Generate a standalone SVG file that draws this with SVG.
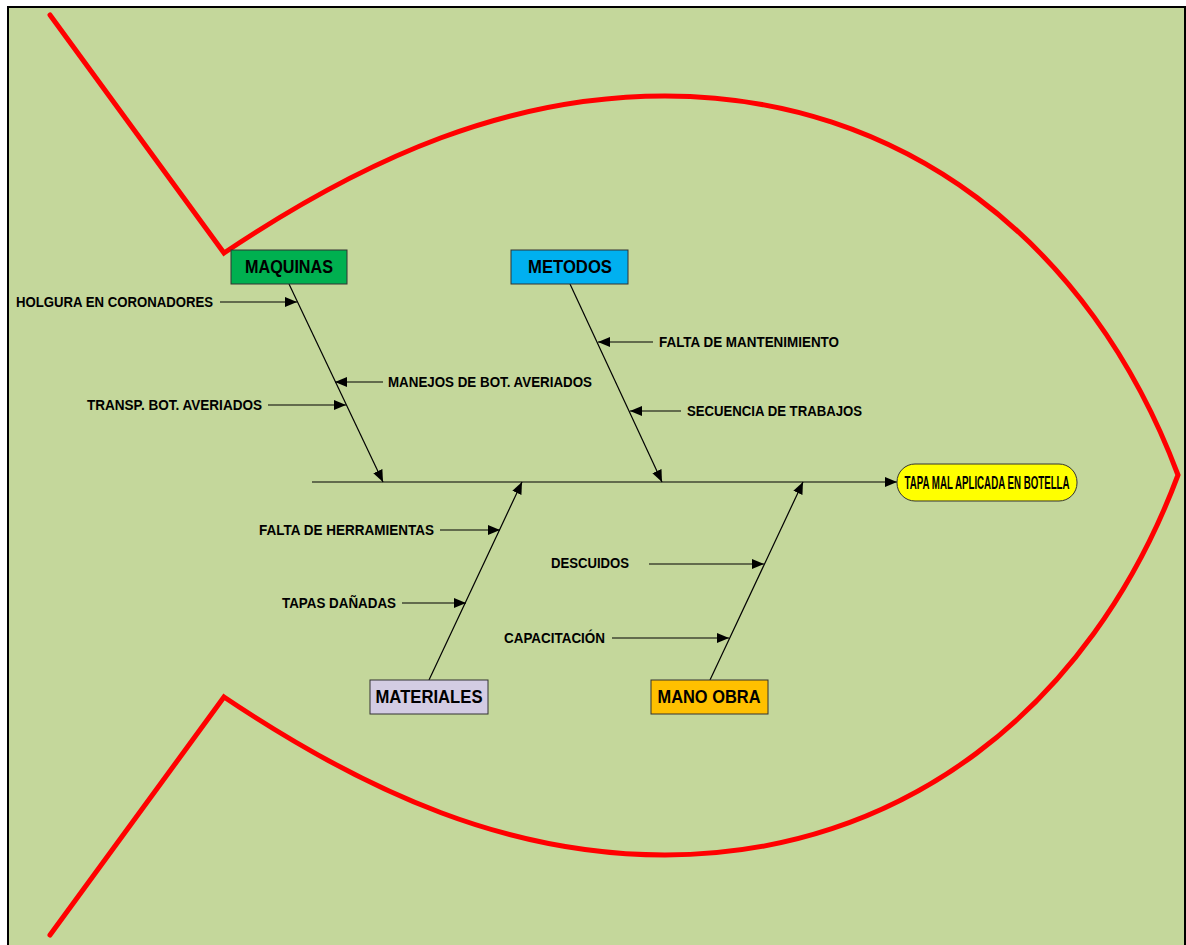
<svg xmlns="http://www.w3.org/2000/svg" width="1186" height="945" viewBox="0 0 1186 945">
<defs>
<style>
.bg{fill:#C4D79B;stroke:#000;stroke-width:2}
.fish{fill:none;stroke:#FF0000;stroke-width:5;stroke-linecap:round;stroke-linejoin:miter}
.ln{stroke:#000;stroke-width:1.2;fill:none}
.box{stroke:#333;stroke-width:1}
.cat{font-family:"Liberation Sans",Arial,sans-serif;font-weight:bold;font-size:18px;fill:#000;text-anchor:middle;dominant-baseline:central}
.lbl{font-family:"Liberation Sans",Arial,sans-serif;font-weight:bold;font-size:14px;fill:#000;dominant-baseline:central}
</style>
<marker id="ar" markerUnits="userSpaceOnUse" markerWidth="13" markerHeight="11" refX="12" refY="5" orient="auto">
<path d="M0,0 L12,5 L0,10 z" fill="#000"/>
</marker>
</defs>
<rect class="bg" x="8" y="7" width="1177" height="950"/>
<g id="fish">
<path class="fish" d="M50,15 L224,253 C370,155 510,96 665,96 C900,96 1090,240 1178,475 C1090,710 900,855 665,855 C510,855 370,795 224,697 L50,935"/>
</g>
<g id="connectors">
<line class="ln" x1="312" y1="482" x2="897" y2="482" marker-end="url(#ar)"/>
<line class="ln" x1="289" y1="284" x2="383" y2="482" marker-end="url(#ar)"/>
<line class="ln" x1="570" y1="284" x2="662" y2="482" marker-end="url(#ar)"/>
<line class="ln" x1="429" y1="680" x2="522" y2="482" marker-end="url(#ar)"/>
<line class="ln" x1="710" y1="680" x2="803" y2="482" marker-end="url(#ar)"/>
<line class="ln" x1="220" y1="302" x2="297" y2="302" marker-end="url(#ar)"/>
<line class="ln" x1="383" y1="382" x2="335" y2="382" marker-end="url(#ar)"/>
<line class="ln" x1="268" y1="405" x2="346" y2="405" marker-end="url(#ar)"/>
<line class="ln" x1="653" y1="342" x2="598" y2="342" marker-end="url(#ar)"/>
<line class="ln" x1="681" y1="411" x2="630" y2="411" marker-end="url(#ar)"/>
<line class="ln" x1="440" y1="530" x2="500" y2="530" marker-end="url(#ar)"/>
<line class="ln" x1="402" y1="603" x2="466" y2="603" marker-end="url(#ar)"/>
<line class="ln" x1="649" y1="564" x2="764" y2="564" marker-end="url(#ar)"/>
<line class="ln" x1="612" y1="638" x2="729" y2="638" marker-end="url(#ar)"/>
</g>
<g id="head">
<rect x="897" y="464" width="180" height="37" rx="18" ry="18" fill="#FFFF00" stroke="#333" stroke-width="1"/>
<text class="cat" transform="translate(987,483) scale(0.54,1)" x="0" y="0" font-size="17">TAPA MAL APLICADA EN BOTELLA</text>
</g>
<g id="maquinas">
<rect class="box" x="231" y="250" width="116" height="34" fill="#00B050"/>
<text class="cat" x="289" y="267" textLength="88" lengthAdjust="spacingAndGlyphs">MAQUINAS</text>
</g>
<g id="metodos">
<rect class="box" x="511" y="250" width="117" height="34" fill="#00B0F0"/>
<text class="cat" x="570" y="267" textLength="84" lengthAdjust="spacingAndGlyphs">METODOS</text>
</g>
<g id="materiales">
<rect class="box" x="370" y="680" width="118" height="34" fill="#D3CCE3"/>
<text class="cat" x="429" y="697" textLength="107" lengthAdjust="spacingAndGlyphs">MATERIALES</text>
</g>
<g id="mano-obra">
<rect class="box" x="651" y="680" width="117" height="34" fill="#FFC000"/>
<text class="cat" x="709" y="697" textLength="103" lengthAdjust="spacingAndGlyphs">MANO OBRA</text>
</g>
<g id="causes">
<text class="lbl" x="16" y="302" textLength="197" lengthAdjust="spacingAndGlyphs">HOLGURA EN CORONADORES</text>
<text class="lbl" x="388" y="382" textLength="204" lengthAdjust="spacingAndGlyphs">MANEJOS DE BOT. AVERIADOS</text>
<text class="lbl" x="87" y="405" textLength="175" lengthAdjust="spacingAndGlyphs">TRANSP. BOT. AVERIADOS</text>
<text class="lbl" x="659" y="342" textLength="180" lengthAdjust="spacingAndGlyphs">FALTA DE MANTENIMIENTO</text>
<text class="lbl" x="687" y="411" textLength="175" lengthAdjust="spacingAndGlyphs">SECUENCIA DE TRABAJOS</text>
<text class="lbl" x="259" y="530" textLength="175" lengthAdjust="spacingAndGlyphs">FALTA DE HERRAMIENTAS</text>
<text class="lbl" x="282" y="603" textLength="114" lengthAdjust="spacingAndGlyphs">TAPAS DAÑADAS</text>
<text class="lbl" x="551" y="563" textLength="78" lengthAdjust="spacingAndGlyphs">DESCUIDOS</text>
<text class="lbl" x="504" y="638" textLength="101" lengthAdjust="spacingAndGlyphs">CAPACITACIÓN</text>
</g>
</svg>
